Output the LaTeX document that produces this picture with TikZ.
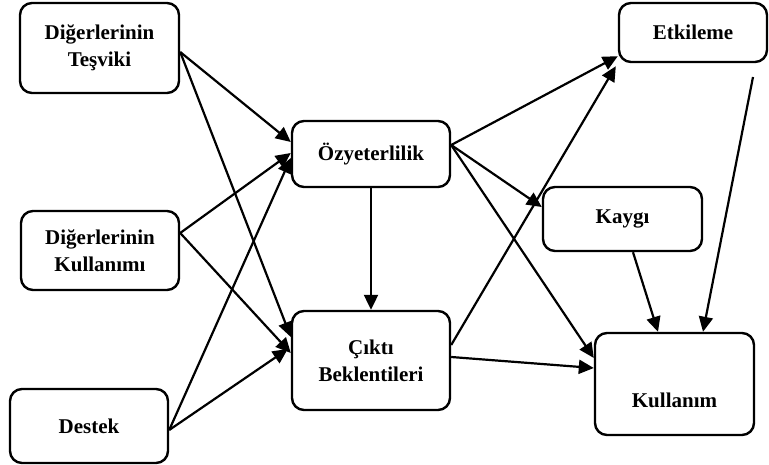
\documentclass[tikz,border=0pt]{standalone}
\usepackage{fontspec}
\setmainfont{Liberation Serif}
\usetikzlibrary{arrows.meta}
\begin{document}
\begin{tikzpicture}[x=1pt,y=-1pt,
  box/.style={draw, line width=2.4pt, rounded corners=12pt, inner sep=0pt,
    align=center, font=\fontsize{21}{27}\selectfont\bfseries},
  lbl/.style={inner sep=0pt, align=center, font=\fontsize{21}{27}\selectfont\bfseries},
  link/.style={line width=2.2pt, -{Triangle[length=15pt,width=14pt]}},
  ]
\useasboundingbox (0,0) rectangle (769,465);

% source boxes
\node[box, minimum width=159pt, minimum height=90pt] (T) at (99.5,48) {Diğerlerinin\\Teşviki};
\node[box, minimum width=158pt, minimum height=79pt] (K) at (100,250.5) {Diğerlerinin\\Kullanımı};
\node[box, minimum width=158pt, minimum height=74pt] (D) at (89,426) {Destek};

% mediating boxes
\node[box, minimum width=158pt, minimum height=66pt] (O) at (371,154) {Özyeterlilik};
\node[box, minimum width=158pt, minimum height=99pt] (C) at (371,360.5) {Çıktı\\Beklentileri};

% outcome boxes
\node[box, minimum width=148pt, minimum height=59pt] (E) at (693,32.5) {Etkileme};
\node[box, minimum width=159pt, minimum height=64pt] (Ky) at (622.5,219) {Kaygı};
\node[box, minimum width=159pt, minimum height=102pt] (U) at (674.5,384) {};
\node[lbl] (Utext) at (674.5,400) {Kullanım};

\coordinate (Eout) at (753,77);

% links from the sources
\draw[link] ([yshift=-4pt]T.east) -- ([yshift=12pt]O.west);
\draw[link] ([yshift=-4pt]T.east) -- ([yshift=23.5pt]C.west);
\draw[link] ([yshift=17.5pt]K.east) -- ([yshift=1pt]O.west);
\draw[link] ([yshift=17.5pt]K.east) -- ([yshift=7.5pt]C.west);
\draw[link] ([yshift=-4pt]D.east) -- ([yshift=-4pt]O.west);
\draw[link] ([yshift=-4pt]D.east) -- ([xshift=-3pt,yshift=11.5pt]C.west);

% links between the mediators
\draw[link] (O.south) -- (C.north);

% links to the outcomes
\draw[link] ([yshift=9pt]O.east) -- ([yshift=7pt]E.south west);
\draw[link] ([yshift=9pt]O.east) -- ([yshift=12pt]Ky.west);
\draw[link] ([yshift=9pt]O.east) -- ([yshift=26pt]U.west);
\draw[link] ([yshift=15.5pt]C.east) -- ([shift={(-2pt,-3pt)}]E.south west);
\draw[link] ([yshift=3.5pt]C.east) -- ([yshift=16pt]U.west);
\draw[link] ([xshift=10.5pt]Ky.south) -- ([xshift=-16.5pt]U.north);
\draw[link] (Eout) -- ([xshift=28.5pt]U.north);
\end{tikzpicture}
\end{document}
